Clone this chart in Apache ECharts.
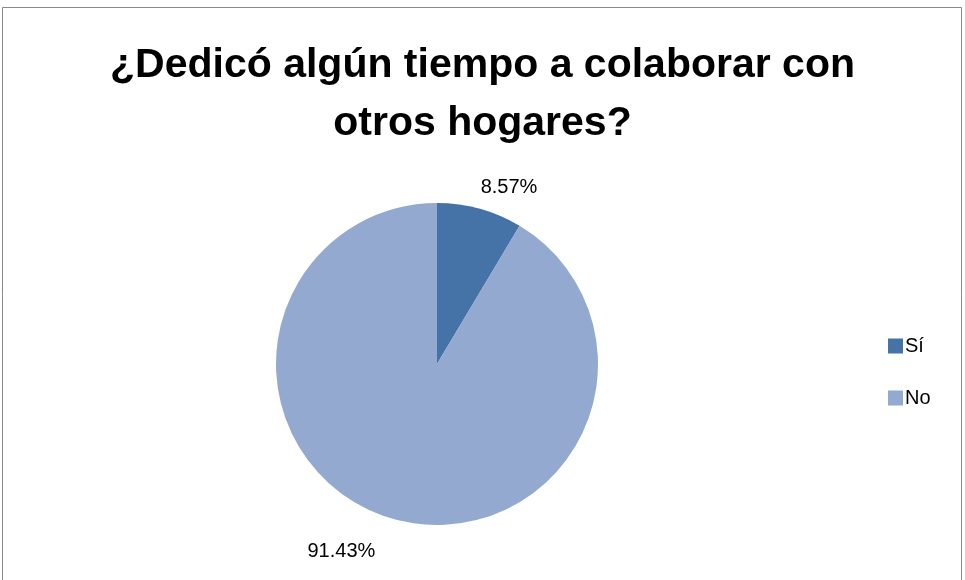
<!DOCTYPE html>
<html><head><meta charset="utf-8">
<script src="https://cdn.jsdelivr.net/npm/echarts@6/dist/echarts.min.js"></script>
<style>html,body{margin:0;padding:0;background:#fff}#c{width:965px;height:580px}</style>
</head><body><div id="c"></div>
<script>
const titleText = "¿Dedicó algún tiempo a colaborar con\notros hogares?";
const categories = ["Sí", "No"];
const values = [8.57, 91.43];
const colors = ["#4572A7", "#93A9CF"];

const chart = echarts.init(document.getElementById('c'));
chart.setOption({
  backgroundColor: '#fff',
  animation: false,
  graphic: [{type:'rect', shape:{x:2.5,y:7.5,width:959,height:600}, style:{fill:'none', stroke:'#888', lineWidth:1}}],
  title: {
    text: titleText, left: 'center', top: 32,
    textStyle: {fontFamily: 'Liberation Sans', fontWeight: 'bold', fontSize: 41, lineHeight: 58, color: '#000'}
  },
  legend: {
    orient: 'vertical', left: 883, top: 331, itemWidth: 15, itemHeight: 15, itemGap: 32,
    icon: 'rect',
    textStyle: {fontFamily: 'Liberation Sans', fontSize: 20, color: '#000', padding:[0,0,0,-3]},
    data: categories
  },
  series: [{
    type: 'pie', center: [437, 364], radius: 161, startAngle: 90, clockwise: true,
    data: categories.map((c, i) => ({name: c, value: values[i], itemStyle: {color: colors[i]}})),
    label: {show: true, position: 'outside', formatter: p => p.value.toFixed(2) + '%',
      fontFamily: 'Liberation Sans', fontSize: 20, color: '#000'},
    labelLine: {show: false, length: 22, length2: 0},
    labelLayout: p => p.dataIndex === 1 ? {dx: -8, dy: 11} : {dx: -10, dy: 0},
    emphasis: {disabled: true}
  }]
});
</script></body></html>
